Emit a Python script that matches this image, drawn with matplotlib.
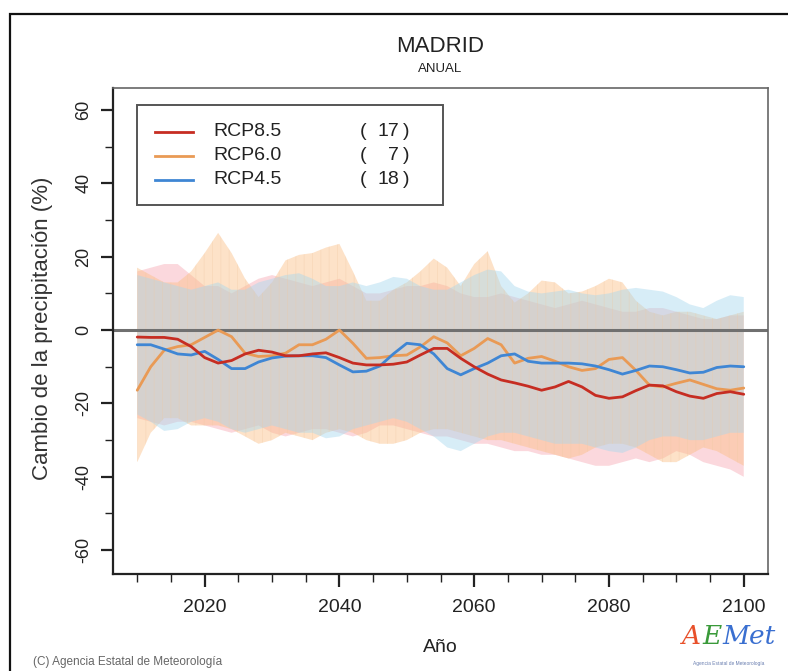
import matplotlib
matplotlib.use("Agg")
import matplotlib.pyplot as plt
from matplotlib.patches import Rectangle
from matplotlib.lines import Line2D
from matplotlib.ticker import MultipleLocator

plt.rcParams['font.family'] = ['Liberation Sans', 'DejaVu Sans']
plt.rcParams['hatch.linewidth'] = 0.6

years = list(range(2010, 2101, 2))

rcp85 = [-1.9, -2, -2, -2.5, -4.5, -7.5, -9, -8.3, -6.5, -5.5, -6, -7, -7, -6.5, -6.2,
         -7.5, -9, -9.5, -9.5, -9.3, -8.7, -6.8, -5, -5, -7.7, -10, -12, -13.6, -14.4,
         -15.3, -16.4, -15.5, -14, -15.5, -17.8, -18.6, -18.2, -16.5, -15, -15.2, -16.8,
         -18, -18.6, -17.3, -16.8, -17.5]
rcp60 = [-16.4, -10, -5.5, -4.5, -4, -2, 0, -1.8, -6.3, -7.2, -7, -6.3, -4, -4, -2.5,
         0, -3.6, -7.7, -7.5, -7, -6.8, -4.6, -1.8, -3.5, -7, -5, -2.3, -4, -9, -7.7,
         -7.2, -8.5, -10, -11, -10.5, -8, -7.5, -11, -15, -15.5, -14.5, -13.6, -14.8,
         -16, -16.4, -15.8]
rcp45 = [-4, -4, -5.2, -6.5, -6.8, -5.8, -8, -10.5, -10.5, -8.7, -7.6, -7.1, -7, -7,
         -7.5, -9.5, -11.4, -11.2, -9.8, -6.5, -3.6, -4, -6.5, -10.5, -12.2, -10.5, -9,
         -7, -6.5, -8.5, -9, -9, -9, -9.2, -9.8, -10.8, -12, -11, -9.8, -10, -10.8,
         -11.7, -11.5, -10.2, -9.8, -10]

rcp85_hi = [16, 17, 18, 18, 15, 12, 12, 10, 12, 14, 15, 14, 13, 12, 13, 14, 12, 10, 10,
            11, 12, 12, 13, 12, 10, 9, 9, 10, 9, 8, 7, 6, 7, 8, 7, 6, 5, 5, 6, 6, 5, 4,
            3, 3, 4, 4]
rcp85_lo = [-24, -25, -26, -25, -25, -26, -27, -28, -27, -26, -28, -29, -28, -27, -27,
            -28, -29, -28, -26, -26, -27, -28, -29, -29, -30, -31, -31, -32, -33, -33,
            -34, -34, -35, -36, -37, -37, -36, -35, -36, -35, -33, -34, -36, -37, -38, -40]
rcp60_hi = [17, 15, 13, 13, 16, 21, 26.5, 21, 14, 9, 13, 19, 20.5, 21, 22.5, 23.5, 16, 8,
            8, 11, 13, 16, 19.5, 17, 12, 18, 21.5, 12, 7.5, 10, 13.5, 13, 10, 10.5, 12,
            14, 13, 8, 5, 4, 5, 5, 4, 3, 4, 5]
rcp60_lo = [-36, -28, -24, -24, -26, -26, -26, -27, -29, -31, -30, -28, -29, -30, -28,
            -27, -28, -30, -31, -31, -30, -28, -27, -27, -28, -29, -30, -30, -31, -32,
            -33, -34, -35, -34, -32, -31, -31, -32, -34, -36, -36, -34, -32, -33, -35, -37]
rcp45_hi = [15, 14, 13, 12, 11, 12, 13, 11, 11, 13, 14, 15, 15.5, 14, 12, 12, 13, 12, 13,
            14.5, 14, 12, 11, 11, 13, 15, 16.5, 16, 12, 10.5, 10, 10.5, 11, 10, 9.5, 10,
            11, 11.5, 11, 10.5, 9, 7, 6, 8, 9.5, 9]
rcp45_lo = [-23, -25, -27.5, -27, -25, -24, -25, -27, -28, -27, -26, -27, -28, -28, -29.5,
            -29, -27, -26, -25, -24, -25, -27, -29, -32, -33, -31, -29, -28, -28, -29,
            -30, -31, -31, -31, -32, -33, -33.5, -32, -30, -29, -29, -30, -30, -29, -28, -28]

names = ['RCP8.5', 'RCP6.0', 'RCP4.5']
counts = ['17', '7', '18']
line_colors = ['#c62d22', '#e99a55', '#3f86d4']
band_colors = ['#f7a9b4', '#fbbf86', '#a8d8ee']

W, H = 788, 671
fig = plt.figure(figsize=(W / 100, H / 100), dpi=100)

def fx(px):
    return px / W

def fy(py):
    return 1 - py / H

ax = fig.add_axes([fx(113), fy(574), fx(768) - fx(113), fy(88) - fy(574)])

series = [rcp85, rcp60, rcp45]
his = [rcp85_hi, rcp60_hi, rcp45_hi]
los = [rcp85_lo, rcp60_lo, rcp45_lo]

for i in range(3):
    ax.fill_between(years, los[i], his[i], facecolor=band_colors[i], alpha=0.45,
                    linewidth=0, zorder=1)
# faint vertical hatching of the RCP6.0 band
ax.fill_between(years, rcp60_lo, rcp60_hi, facecolor='none', hatch='||',
                edgecolor='#f0c9a2', linewidth=0, alpha=0.35, zorder=1.5)

ax.axhline(0, color='#707070', lw=2.2, zorder=2)

for i in [1, 2, 0]:
    ax.plot(years, series[i], color=line_colors[i], lw=2.0, zorder=3,
            solid_capstyle='round', solid_joinstyle='round')

ax.set_xlim(2006.4, 2103.6)
ax.set_ylim(-66.5, 66)
ax.xaxis.set_major_locator(MultipleLocator(20))
ax.xaxis.set_minor_locator(MultipleLocator(5))
ax.yaxis.set_major_locator(MultipleLocator(20))
ax.yaxis.set_minor_locator(MultipleLocator(10))
ax.tick_params(axis='both', which='major', direction='out', length=9, width=1.6,
               colors='#222222')
ax.tick_params(axis='x', which='major', labelsize=14, pad=9)
ax.tick_params(axis='y', which='major', labelsize=13, pad=6)
ax.tick_params(axis='both', which='minor', direction='out', length=6, width=1.0, colors='#222222')
ax.tick_params(top=False, right=False, which='both')
ax.set_yticks([-60, -40, -20, 0, 20, 40, 60])
ax.set_yticklabels(['-60', '-40', '-20', '0', '20', '40', '60'], rotation=90, va='center')
ax.set_xticks([2020, 2040, 2060, 2080, 2100])
for s in ['left', 'bottom']:
    ax.spines[s].set_linewidth(1.6)
    ax.spines[s].set_color('#222222')
for s in ['top', 'right']:
    ax.spines[s].set_linewidth(1.2)
    ax.spines[s].set_color('#666666')

ax.set_ylabel('Cambio de la precipitación (%)', fontsize=16, color='#333333')
ax.yaxis.set_label_coords((53 - 113) / 655, (574 - 328) / 486)

# legend (manual)
def axx(px):
    return (px - 113) / 655

def axy(py):
    return (574 - py) / 486

ax.add_patch(Rectangle((axx(137), axy(205)), axx(443) - axx(137), axy(105) - axy(205),
                       transform=ax.transAxes, facecolor='white', edgecolor='#555555',
                       lw=1.4, zorder=5))
rows = [132, 156, 180]
for i in range(3):
    ax.add_line(Line2D([axx(155), axx(193)], [axy(rows[i])] * 2, transform=ax.transAxes,
                       color=line_colors[i], lw=2.0, zorder=6))
    ax.text(axx(213), axy(rows[i]), names[i], transform=ax.transAxes, fontsize=14,
            va='center', ha='left', color='#222222', zorder=6)
    ax.text(axx(360), axy(rows[i]), '(', transform=ax.transAxes, fontsize=14,
            va='center', ha='left', color='#222222', zorder=6)
    ax.text(axx(399), axy(rows[i]), counts[i], transform=ax.transAxes, fontsize=14,
            va='center', ha='right', color='#222222', zorder=6)
    ax.text(axx(403), axy(rows[i]), ')', transform=ax.transAxes, fontsize=14,
            va='center', ha='left', color='#222222', zorder=6)

# titles
fig.text(fx(440), fy(46), 'MADRID', ha='center', va='center', fontsize=16, color='#222222')
fig.text(fx(440), fy(69), 'ANUAL', ha='center', va='center', fontsize=9.5, color='#222222')
fig.text(fx(440), fy(648), 'Año', ha='center', va='center', fontsize=14, color='#222222')
fig.text(fx(33), fy(662), '(C) Agencia Estatal de Meteorología', ha='left', va='center',
         fontsize=8.5, color='#666666')

# outer frame
fig.add_artist(Rectangle((fx(10), fy(800)), fx(790) - fx(10), fy(14) - fy(800),
                         transform=fig.transFigure, fill=False, edgecolor='#111111', lw=1.6))

# AEMet logo as text
fig.text(fx(681), fy(636), 'A', ha='left', va='center', fontsize=19, color='#e8502a',
         style='italic', family=['DejaVu Serif'])
fig.text(fx(702), fy(636), 'E', ha='left', va='center', fontsize=19, color='#3a9a3a',
         style='italic', family=['DejaVu Serif'])
fig.text(fx(722), fy(636), 'Met', ha='left', va='center', fontsize=19, color='#3a6fd0',
         style='italic', family=['DejaVu Serif'])
fig.text(fx(729), fy(664), 'Agencia Estatal de Meteorología', ha='center', va='center',
         fontsize=3.5, color='#6a7fb0')

fig.savefig('out.png', dpi=100)
